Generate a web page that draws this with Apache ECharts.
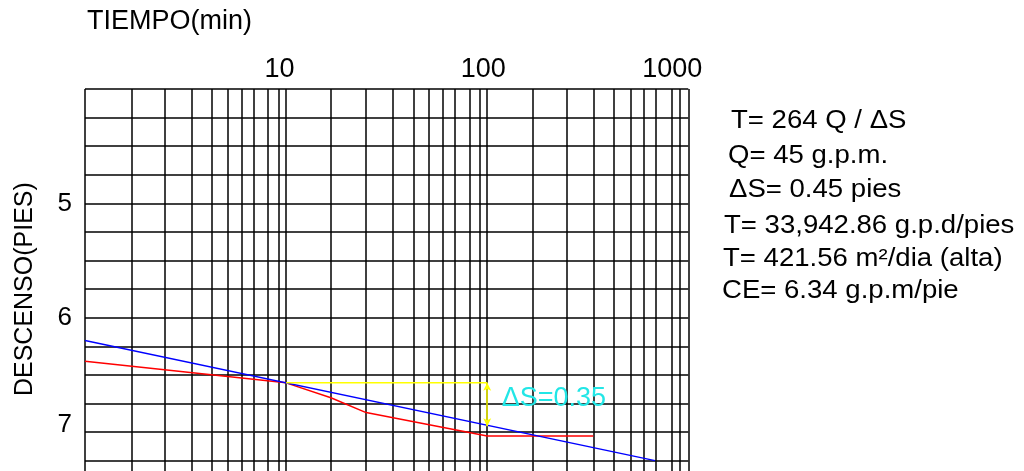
<!DOCTYPE html>
<html>
<head>
<meta charset="utf-8">
<style>
html,body{margin:0;padding:0;background:#fff;overflow:hidden;}
#chart{width:1024px;height:500px;}
</style>
<script src="https://cdn.jsdelivr.net/npm/echarts@6/dist/echarts.min.js"></script>
</head>
<body>
<div id="chart"></div>
<script>
// ---- data ----
const timeTickLabels = [10, 100, 1000];
const depthTickLabels = [5, 6, 7];
// vertical grid lines of the (hand-drawn) log paper, in minutes
const gridTimes = [1, 1.71, 2.48, 3.40, 4.27, 5.13, 6.05, 6.87, 8.15, 9.15,
  10, 16.7, 25, 34.1, 42.9, 51.5, 60.1, 69.2, 81.5, 91.4,
  100, 168, 250, 337, 424, 517, 602, 686, 827, 909, 1000];
// measured drawdown (red)
const redTimes = [1, 10, 16.7, 25, 100, 337];
const redDrawdown = [6.38, 6.57, 6.70, 6.83, 7.035, 7.035];
// fitted straight line (blue)
const blueTimes = [1, 683];
const blueDrawdown = [6.20, 7.25];
// delta-S construction (yellow)
const yellowTimes = [10, 100, 100];
const yellowDrawdown = [6.57, 6.57, 6.95];
const deltaSLabel = 'ΔS=0.35';
const deltaSLabelAt = [118, 6.705];
const infoLines = [
  'T= 264 Q / ΔS',
  'Q= 45 g.p.m.',
  'ΔS= 0.45 pies',
  'T= 33,942.86 g.p.d/pies',
  'T= 421.56 m²/dia (alta)',
  'CE= 6.34 g.p.m/pie'
];

const FONT = '"Liberation Sans", Arial, sans-serif';
const zip = (a, b) => a.map((v, i) => [v, b[i]]);

const infoX = [731, 728, 729, 724, 723, 722];
const infoY = [121, 156, 190, 226, 259, 291];

const chart = echarts.init(document.getElementById('chart'), null, {renderer: 'canvas'});
chart.setOption({
  animation: false,
  backgroundColor: '#fff',
  title: {
    text: 'TIEMPO(min)',
    left: 87, top: 8, padding: 0,
    textStyle: {fontFamily: FONT, fontSize: 27, fontWeight: 'normal', color: '#000'}
  },
  grid: {left: 85, top: 89, width: 603.3, height: 400.2, containLabel: false},
  xAxis: {
    type: 'log', logBase: 10, position: 'top', min: 1, max: 1000,
    axisLine: {show: false}, axisTick: {show: false},
    splitLine: {show: false}, minorSplitLine: {show: false},
    axisLabel: {
      show: true, margin: 6, fontFamily: FONT, fontSize: 27, color: '#000',
      showMinLabel: true, showMaxLabel: true,
      formatter: function (v) {
        const i = timeTickLabels.indexOf(Math.round(v));
        if (i < 0) return '';
        return '{l' + i + '|' + timeTickLabels[i] + '}';
      },
      rich: {
        l0: {fontFamily: FONT, fontSize: 27, color: '#000', padding: [0, 13, 0, 0]},
        l1: {fontFamily: FONT, fontSize: 27, color: '#000', padding: [0, 8, 0, 0]},
        l2: {fontFamily: FONT, fontSize: 27, color: '#000', padding: [0, 32, 0, 0]}
      }
    }
  },
  yAxis: {
    type: 'value', inverse: true, min: 4, max: 7.5, interval: 0.25,
    name: 'DESCENSO(PIES)', nameLocation: 'middle', nameRotate: 90, nameGap: 47,
    nameTextStyle: {fontFamily: FONT, fontSize: 25, color: '#000'},
    axisLine: {show: false}, axisTick: {show: false},
    splitLine: {show: true, lineStyle: {color: '#000', width: 1.5}},
    axisLabel: {
      margin: 13, fontFamily: FONT, fontSize: 26, color: '#000',
      formatter: function (v) {
        const i = depthTickLabels.indexOf(v);
        if (i < 0) return '';
        return '{d' + i + '|' + depthTickLabels[i] + '}';
      },
      rich: {
        d0: {fontFamily: FONT, fontSize: 26, color: '#000'},
        d1: {fontFamily: FONT, fontSize: 26, color: '#000'},
        d2: {fontFamily: FONT, fontSize: 26, color: '#000', padding: [0, 0, 14, 0]}
      }
    }
  },
  series: [
    {
      type: 'line', data: [], silent: true, z: 1,
      markLine: {
        silent: true, symbol: 'none', z: 1, animation: false,
        label: {show: false},
        lineStyle: {color: '#000', width: 1.5, type: 'solid'},
        data: gridTimes.map(t => ({xAxis: t}))
      }
    },
    {
      type: 'line', data: zip(redTimes, redDrawdown), symbol: 'none', z: 3,
      lineStyle: {color: '#ff0000', width: 1.5}
    },
    {
      type: 'line', data: zip(blueTimes, blueDrawdown), symbol: 'none', z: 4,
      lineStyle: {color: '#0000ff', width: 1.5}
    },
    {
      type: 'line', data: zip(yellowTimes, yellowDrawdown).slice(0, 2), symbol: 'none', z: 5,
      lineStyle: {color: '#ffff00', width: 1.5},
      markLine: {
        silent: true, z: 5, animation: false,
        symbol: ['arrow', 'arrow'], symbolSize: [6, 8],
        label: {show: false},
        lineStyle: {color: '#ffff00', width: 1.5, type: 'solid'},
        data: [[{coord: [yellowTimes[1], yellowDrawdown[1]]}, {coord: [yellowTimes[2], yellowDrawdown[2]]}]]
      },
      markPoint: {
        silent: true, z: 6, animation: false,
        symbol: 'circle', symbolSize: 0,
        label: {show: true, position: 'right', distance: 0, formatter: deltaSLabel,
          fontFamily: FONT, fontSize: 27, color: '#22e6e6'},
        data: [{coord: deltaSLabelAt}]
      }
    }
  ],
  graphic: infoLines.map((s, i) => ({
    type: 'text', x: infoX[i], y: infoY[i], scaleX: 1.06, silent: true,
    style: {text: s, font: '26px ' + FONT, fill: '#000', verticalAlign: 'middle'}
  }))
});
</script>
</body>
</html>
